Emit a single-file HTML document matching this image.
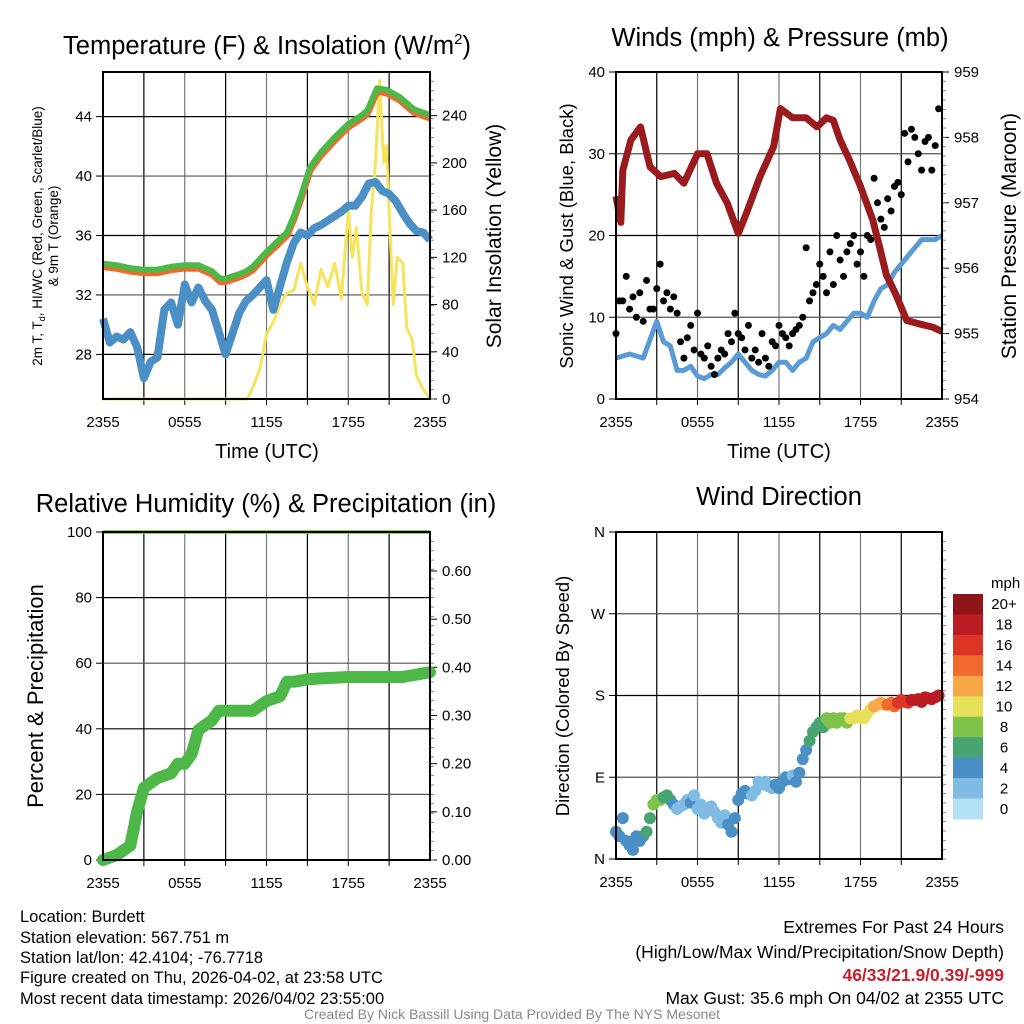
<!DOCTYPE html>
<html><head><meta charset="utf-8"><title>Mesonet Station Meteogram</title>
<style>
html,body{margin:0;padding:0;background:#fff;}
svg{display:block;font-family:"Liberation Sans",Arial,sans-serif;}
</style></head>
<body>
<svg id="fig" width="1024" height="1024" viewBox="0 0 1024 1024" xmlns="http://www.w3.org/2000/svg">
<rect width="1024" height="1024" fill="#fff"/>
<g id="layer"></g>
<text x="267" y="54" font-size="25.5" text-anchor="middle">Temperature (F) &amp; Insolation (W/m<tspan font-size="15" dy="-10">2</tspan><tspan dy="10">)</tspan></text>
<text x="780" y="46" font-size="25.5" text-anchor="middle">Winds (mph) &amp; Pressure (mb)</text>
<text x="266" y="512" font-size="25.5" text-anchor="middle">Relative Humidity (%) &amp; Precipitation (in)</text>
<text x="779" y="505" font-size="25.5" text-anchor="middle">Wind Direction</text>
<text transform="translate(42,236) rotate(-90)" font-size="13.5" text-anchor="middle">2m T, T<tspan font-size="9" dy="3">d</tspan><tspan dy="-3">, HI/WC (Red, Green, Scarlet/Blue)</tspan></text>
<text transform="translate(58,236) rotate(-90)" font-size="13.5" text-anchor="middle">&amp; 9m T (Orange)</text>
<text transform="translate(501,236) rotate(-90)" font-size="21" text-anchor="middle">Solar Insolation (Yellow)</text>
<text transform="translate(573,236) rotate(-90)" font-size="18.5" text-anchor="middle">Sonic Wind &amp; Gust (Blue, Black)</text>
<text transform="translate(1016,236) rotate(-90)" font-size="21" text-anchor="middle">Station Pressure (Maroon)</text>
<text transform="translate(43,696) rotate(-90)" font-size="22" text-anchor="middle">Percent &amp; Precipitation</text>
<text transform="translate(569,696) rotate(-90)" font-size="18.5" text-anchor="middle">Direction (Colored By Speed)</text>
<text x="267" y="458" font-size="20" text-anchor="middle">Time (UTC)</text>
<text x="779" y="458" font-size="20" text-anchor="middle">Time (UTC)</text>
<text x="991" y="588" font-size="15" text-anchor="start">mph</text>
<g font-size="16.5">
<text x="20" y="922">Location: Burdett</text>
<text x="20" y="943">Station elevation: 567.751 m</text>
<text x="20" y="963">Station lat/lon: 42.4104; -76.7718</text>
<text x="20" y="983">Figure created on Thu, 2026-04-02, at 23:58 UTC</text>
<text x="20" y="1004">Most recent data timestamp: 2026/04/02 23:55:00</text>
</g>
<g font-size="17.5" text-anchor="end">
<text x="1004" y="933">Extremes For Past 24 Hours</text>
<text x="1004" y="958">(High/Low/Max Wind/Precipitation/Snow Depth)</text>
<text x="1004" y="981" fill="#c8202a" font-weight="bold">46/33/21.9/0.39/-999</text>
<text x="1004" y="1004">Max Gust: 35.6 mph On 04/02 at 2355 UTC</text>
</g>
<text x="512" y="1019" font-size="14" fill="#888" text-anchor="middle">Created By Nick Bassill Using Data Provided By The NYS Mesonet</text>
</svg>
<script>
// ---- data ----
const timeTickHours = [0, 6, 12, 18, 24];
const timeTickLabels = ["2355", "0555", "1155", "1755", "2355"];
const tempHours = [0,1,2,3,4,5,6,7,8,8.6,9,10,10.5,11,12,12.7,13.5,14,14.5,15.2,16,16.4,17,18,19,19.4,20.1,20.8,21.8,22.8,24];
const tempVals  = [34.1,34.0,33.8,33.7,33.7,33.9,34.0,34.0,33.6,33.1,33.1,33.4,33.6,33.9,34.9,35.5,36.2,37.3,38.6,40.6,41.6,42.0,42.6,43.5,44.1,44.4,45.9,45.8,45.3,44.5,44.1];
const dewHours = [0,0.5,1,1.5,2,2.5,3,3.5,4,4.5,5,5.5,6,6.5,7,7.5,8,8.5,9,9.5,10,10.5,11,11.5,12,12.5,13,13.5,14,14.5,15,15.5,16,16.5,17,17.5,18,18.5,19,19.5,20,20.5,21,21.5,22,22.5,23,23.5,24];
const dewVals  = [30.4,28.8,29.2,29.0,29.5,28.5,26.4,27.5,27.8,31.0,31.5,30.0,32.7,31.5,32.5,31.6,31.0,29.5,28.0,29.4,30.8,31.6,32.0,32.5,33.0,31.0,32.6,34.2,35.5,36.2,36.0,36.5,36.7,37.0,37.3,37.6,38.0,38.0,38.6,39.5,39.6,39.0,38.8,38.3,37.5,36.8,36.3,36.2,35.7];
const solarHours = [0,10.6,11,11.5,12,12.5,13,13.5,14,14.5,15,15.5,16,16.5,17,17.5,18,18.3,18.6,19,19.4,19.7,20,20.3,20.6,20.8,21,21.3,21.6,22,22.3,22.7,23,23.5,24];
const solarVals  = [0,0,10,25,55,65,80,90,92,115,95,80,110,95,115,85,160,120,145,90,80,160,200,270,200,215,160,80,120,115,60,50,20,8,0];
const pressHours = [0,0.35,0.5,1.1,1.8,2.5,3.3,4.3,5,6,6.7,7.4,8.2,9,9.6,10.6,11.6,12.1,13,14,14.8,15.5,16,16.5,17.2,17.7,18,18.9,19.4,19.9,20.6,21.4,22.3,23.3,24];
const pressVals  = [957.1,956.7,957.5,957.96,958.16,957.55,957.4,957.45,957.3,957.75,957.75,957.3,956.99,956.53,956.84,957.4,957.86,958.44,958.3,958.3,958.16,958.3,958.26,957.96,957.65,957.4,957.25,956.74,956.33,955.9,955.6,955.2,955.15,955.1,955.03];
const windHours = [0,1,2,3,3.5,4,4.5,5,5.5,6,6.5,7,7.5,8,8.5,9,9.5,10,10.5,11,11.5,12,12.5,13,13.5,14,14.5,15,15.5,16,16.5,17,17.5,18,18.5,19,19.5,20,20.5,21,21.5,22,22.5,23,23.5,24];
const windVals  = [5,5.5,5,9.5,7,6.5,3.5,3.5,4,2.8,2.5,3,3,3.8,4.5,5.5,4.5,3.5,3,2.8,3.5,4.5,4.5,3.5,4.5,5,7,7.5,8,9,8.5,9.5,10.5,10.5,10,12,13.5,14,15.5,16.5,17.5,18.5,19.5,19.5,19.5,20];
const gustVals = [8,12,12,15, 11,12.5,10,13, 9.5,14.5,11,11, 13.5,16.5,12,13, 11,12.5,10.5,7, 5,7.5,9,6, 10.5,5.5,5,6.5, 4,3,5,6, 5.5,8,7,10.5, 8,7.5,6,9, 5,6,4.5,8, 5,4,7,6.5, 9,8,7.5,6.5, 8,8.5,9,10, 18.5,12,13,14, 16.5,15,13,18, 14,20,17,15, 18,19,20,16.5, 18,15,20,19.5, 27,24,22,21, 24.5,23,26,26.5, 25,32.5,29,33, 32,30,28,31.5, 32,28,31,35.5];
const dirVals = [30,25,45,20, 15,10,25,20, 25,30,45,60, 65,65,68,70, 65,60,55,58, 60,65,62,70, 55,60,50,55, 58,52,45,40, 48,38,30,45, 65,72,75,72, 70,75,85,82, 85,80,78,82, 78,85,90,88, 92,85,95,110, 120,130,140,145, 150,145,155,150, 155,150,155,155, 150,155,155,158, 155,155,160,165, 168,170,172,170, 170,172,168,172, 175,173,172,175, 175,176,173,178, 177,176,178,180];
const precipHours = [0,1,2,2.5,3,3.5,4,5,5.5,6,6.5,7,7.5,8,8.5,9,10,11,11.5,12,13,13.5,14,15,16,18,20,22,24];
const precipVals  = [0,0.01,0.03,0.10,0.15,0.16,0.17,0.18,0.20,0.20,0.22,0.27,0.28,0.29,0.31,0.31,0.31,0.31,0.32,0.33,0.34,0.37,0.37,0.375,0.377,0.38,0.38,0.38,0.39];
const rhHours = [0, 24];
const rhVals  = [100, 100];
const tempTicks = [28,32,36,40,44];
const solarTicks = [0,40,80,120,160,200,240];
const windTicks = [0,10,20,30,40];
const pressTicks = [954,955,956,957,958,959];
const rhTicks = [0,20,40,60,80,100];
const precipTicks = [0,0.1,0.2,0.3,0.4,0.5,0.6];
const dirTicks = [0,90,180,270,360];
const dirTickLabels = ["N","E","S","W","N"];
const speedBins = ["0","2","4","6","8","10","12","14","16","18","20+"];
const speedColors = ["#b5e1f6","#7fbbe3","#4a8fc6","#48a571","#7ec24a","#e6e05a","#f7a846","#f06a2c","#dc3427","#bb1c24","#8f1518"];

// ---- helpers ----
const NS = "http://www.w3.org/2000/svg";
const layer = document.getElementById("layer");
function mk(tag, attrs, parent) {
  const e = document.createElementNS(NS, tag);
  for (const k in attrs) e.setAttribute(k, attrs[k]);
  (parent || layer).appendChild(e);
  return e;
}
function lin(d0, d1, r0, r1) { return v => r0 + (v - d0) / (d1 - d0) * (r1 - r0); }
function interp(hs, vs, h) {
  for (let i = 0; i < hs.length - 1; i++) if (h <= hs[i+1]) { const t = (h - hs[i]) / (hs[i+1] - hs[i]); return vs[i] + t * (vs[i+1] - vs[i]); }
  return vs[vs.length - 1];
}
function pathOf(hs, vs, X, Y) { return hs.map((h, i) => (i ? "L" : "M") + X(h).toFixed(1) + "," + Y(vs[i]).toFixed(1)).join(""); }

function frame(name, x0, x1, y0, y1, leftTicks, leftY, leftLbl, rightTicks, rightY, rightLbl) {
  const g = mk("g", {});
  
  
  const X = lin(0, 24, x0, x1);
  for (let h = 3; h < 24; h += 3) {
    const l = mk("line", {x1: X(h), x2: X(h), y1: y0, y2: y1, stroke: (h % 6 === 0) ? "#777" : "#000", "stroke-width": 1.2}, g);
    
    
    mk("line", {x1: X(h), x2: X(h), y1: y1, y2: y1 + 6, stroke: "#000"}, g);
  }
  leftTicks.forEach((v, i) => {
    const y = leftY(v);
    if (Math.abs(y - y0) > 2 && Math.abs(y - y1) > 2) {
      const l = mk("line", {x1: x0, x2: x1, y1: y, y2: y, stroke: (i % 2) ? "#555" : "#000", "stroke-width": 1.2}, g);
      
      
    }
    mk("line", {x1: x0 - 7, x2: x0, y1: y, y2: y, stroke: "#000"}, g);
    const t = mk("text", {x: x0 - 11, y: y + 5, "font-size": 15, "text-anchor": "end"}, g);
    t.textContent = leftLbl(v, i);
    
    
  });
  if (rightTicks) rightTicks.forEach((v, i) => {
    const y = rightY(v);
    mk("line", {x1: x1, x2: x1 + 7, y1: y, y2: y, stroke: "#000"}, g);
    const t = mk("text", {x: x1 + 12, y: y + 5, "font-size": 15}, g);
    t.textContent = rightLbl(v);
    
    
  });
  for (let y = y1; y >= y0; y -= (y1 - y0) / 35) mk("line", {x1: x1, x2: x1 + 4, y1: y, y2: y, stroke: "#666", "stroke-width": 0.8}, g);
  timeTickHours.forEach((h, i) => {
    const t = mk("text", {x: X(h), y: y1 + 28, "font-size": 15, "text-anchor": "middle"}, g);
    t.textContent = timeTickLabels[i];
    
    
  });
  return X;
}
function border(x0, x1, y0, y1) {
  const r = mk("rect", {x: x0, y: y0, width: x1 - x0, height: y1 - y0, fill: "none", stroke: "#000", "stroke-width": 2});
  
  
}

// ---- Panel 1: temperature ----
(function(){
  const x0 = 103, x1 = 430, y0 = 72, y1 = 399;
  const Y = lin(25, 47, y1, y0), YS = lin(0, 277, y1, y0);
  const X = frame("temp", x0, x1, y0, y1, tempTicks, Y, v => v, solarTicks, YS, v => v);
  const s = mk("path", {d: pathOf(solarHours, solarVals, X, YS), fill: "none", stroke: "#f7e35c", "stroke-width": 3, "stroke-linejoin": "round"});
  
  
  const d = mk("path", {d: pathOf(dewHours, dewVals, X, Y), fill: "none", stroke: "#4a8fc6", "stroke-width": 8, "stroke-linejoin": "round"});
  
  
  const o = mk("path", {d: pathOf(tempHours, tempVals.map(v => v - 0.2), X, Y), fill: "none", stroke: "#f06a2c", "stroke-width": 7, "stroke-linejoin": "round"});
  
  
  const t = mk("path", {d: pathOf(tempHours, tempVals, X, Y), fill: "none", stroke: "#4db848", "stroke-width": 6, "stroke-linejoin": "round"});
  
  
  border(x0, x1, y0, y1);
})();

// ---- Panel 2: winds ----
(function(){
  const x0 = 616, x1 = 942, y0 = 72, y1 = 399;
  const Y = lin(0, 40, y1, y0), YP = lin(954, 959, y1, y0);
  const X = frame("wind", x0, x1, y0, y1, windTicks, Y, v => v, pressTicks, YP, v => v);
  const w = mk("path", {d: pathOf(windHours, windVals, X, Y), fill: "none", stroke: "#5b9bd5", "stroke-width": 5, "stroke-linejoin": "round"});
  
  
  gustVals.forEach((v, i) => {
    const c = mk("circle", {cx: X(i * 0.25), cy: Y(v), r: 3.5, fill: "#000"});
    
    
  });
  const p = mk("path", {d: pathOf(pressHours, pressVals, X, YP), fill: "none", stroke: "#9a1b1e", "stroke-width": 7, "stroke-linejoin": "round"});
  
  
  border(x0, x1, y0, y1);
})();

// ---- Panel 3: RH & precip ----
(function(){
  const x0 = 103, x1 = 430, y0 = 532, y1 = 860;
  const Y = lin(0, 100, y1, y0), YP = lin(0, 0.681, y1, y0);
  const X = frame("rh", x0, x1, y0, y1, rhTicks, Y, v => v, precipTicks, YP, v => v.toFixed(2));
  const r = mk("path", {d: pathOf(rhHours, rhVals, X, Y), fill: "none", stroke: "#8fce4f", "stroke-width": 4});
  
  
  const p = mk("path", {d: pathOf(precipHours, precipVals, X, YP), fill: "none", stroke: "#4db848", "stroke-width": 12, "stroke-linejoin": "round", "stroke-linecap": "round"});
  
  
  border(x0, x1, y0, y1);
  mk("line", {x1: x0, x2: x1, y1: y0, y2: y0, stroke: "#000", "stroke-width": 1});
})();

// ---- Panel 4: wind direction ----
(function(){
  const x0 = 616, x1 = 942, y0 = 532, y1 = 859;
  const Y = lin(0, 360, y1, y0);
  const X = frame("direction", x0, x1, y0, y1, dirTicks, Y, (v, i) => dirTickLabels[i], null);
  dirVals.forEach((v, i) => {
    const h = i * 0.25;
    const spd = interp(windHours, windVals, h);
    const bin = Math.min(10, Math.max(0, Math.floor(spd / 2)));
    const c = mk("circle", {cx: X(h), cy: Y(v), r: 6, fill: speedColors[bin]});
    
    
  });
  border(x0, x1, y0, y1);
  const cb0 = 594, cbH = 225 / speedBins.length;
  speedBins.forEach((lab, i) => {
    const k = speedBins.length - 1 - i;
    const r = mk("rect", {x: 953, y: cb0 + i * cbH, width: 30, height: cbH + 0.5, fill: speedColors[k]});
    
    
    const t = mk("text", {x: 1004, y: cb0 + i * cbH + cbH / 2 + 5, "font-size": 15, "text-anchor": "middle"});
    t.textContent = speedBins[k];
    
    
  });
})();
</script>
</body></html>
